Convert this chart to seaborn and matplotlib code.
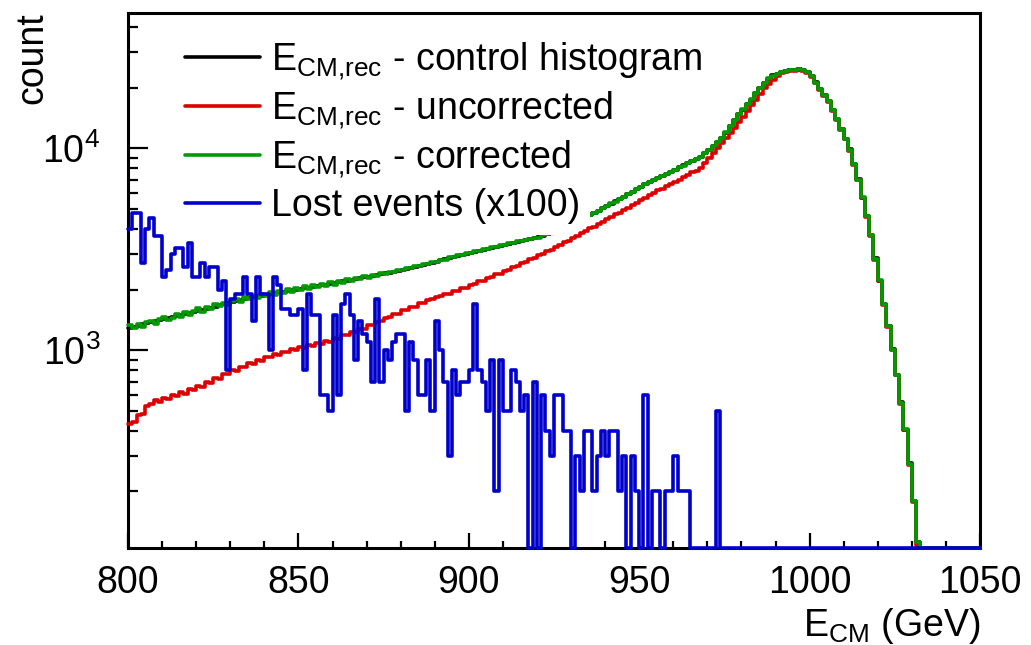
import numpy as np
import pandas as pd
import matplotlib
matplotlib.use("Agg")
import matplotlib.pyplot as plt
from matplotlib.lines import Line2D
from matplotlib.patches import Rectangle
from matplotlib.ticker import LogLocator, NullFormatter, MultipleLocator
import seaborn as sns

# ---------------------------------------------------------------------------
# Histogram contents: 200 bins of 1.25 GeV between 800 and 1050 GeV
# ---------------------------------------------------------------------------
e_low, e_high, bin_width = 800.0, 1050.0, 1.25

# E_CM,rec - control histogram
control = [
    1297, 1312, 1327, 1346, 1361, 1380, 1393, 1413, 1426, 1445,
    1459, 1479, 1493, 1514, 1531, 1549, 1570, 1589, 1607, 1629,
    1648, 1671, 1690, 1710, 1730, 1750, 1770, 1795, 1816, 1837,
    1849, 1866, 1884, 1901, 1919, 1936, 1954, 1972, 1986, 2000,
    2018, 2032, 2046, 2065, 2080, 2099, 2113, 2133, 2153, 2173,
    2193, 2213, 2234, 2254, 2275, 2296, 2317, 2339, 2360, 2382,
    2404, 2427, 2449, 2477, 2500, 2535, 2564, 2594, 2624, 2655,
    2685, 2716, 2754, 2793, 2825, 2864, 2897, 2938, 2972, 3013,
    3048, 3083, 3119, 3155, 3184, 3221, 3258, 3296, 3327, 3365,
    3404, 3443, 3475, 3516, 3556, 3597, 3631, 3698, 3767, 3846,
    3917, 3999, 4083, 4178, 4266, 4365, 4467, 4571, 4677, 4797,
    4920, 5058, 5188, 5333, 5470, 5623, 5768, 5943, 6109, 6281,
    6457, 6637, 6808, 6982, 7145, 7328, 7499, 7674, 7852, 8054,
    8241, 8453, 8650, 8872, 9078, 9520, 9840, 10330, 10710, 11280,
    11960, 12980, 13870, 14830, 15570, 16560, 17460, 18790, 19870, 21120,
    22190, 23000, 23410, 24020, 24240, 24460, 24520, 24690, 24460, 24020,
    22770, 21220, 19740, 18400, 17110, 15560, 13970, 12530, 11170, 9890,
    8370, 7040, 5710, 4620, 3720, 2856, 2210, 1700, 1316, 1013,
    756, 553, 404, 276, 179, 113, 40, 0, 0, 0,
    0, 0, 0, 0, 0, 0, 0, 0, 0, 0,
]

# E_CM,rec - uncorrected
uncorrected = [
    430, 440, 478, 482, 528, 540, 566, 552, 580, 575,
    602, 592, 620, 610, 645, 638, 665, 660, 698, 690,
    730, 725, 765, 760, 800, 794, 830, 824, 862, 858,
    895, 890, 930, 922, 958, 950, 985, 979, 1013, 1005,
    1040, 1031, 1064, 1056, 1088, 1080, 1114, 1106, 1145, 1141,
    1188, 1187, 1232, 1233, 1281, 1279, 1331, 1334, 1387, 1393,
    1449, 1456, 1514, 1522, 1577, 1583, 1640, 1647, 1708, 1716,
    1780, 1789, 1847, 1848, 1907, 1909, 1969, 1971, 2034, 2036,
    2110, 2122, 2194, 2207, 2286, 2301, 2382, 2399, 2482, 2502,
    2587, 2613, 2702, 2725, 2822, 2853, 2955, 2989, 3093, 3138,
    3253, 3310, 3429, 3491, 3614, 3681, 3810, 3882, 4016, 4085,
    4234, 4318, 4463, 4554, 4716, 4814, 4983, 5088, 5265, 5378,
    5563, 5685, 5878, 6009, 6197, 6322, 6518, 6651, 6856, 7014,
    7228, 7379, 7603, 7763, 7997, 8472, 8954, 9506, 10046, 10666,
    11272, 11967, 12647, 13521, 14355, 15346, 16331, 17458, 18535, 19815,
    20797, 21878, 22803, 23550, 23988, 24190, 24300, 24420, 24250, 23750,
    22580, 20970, 19570, 18180, 16970, 15370, 13860, 12380, 11080, 9765,
    8311, 6945, 5671, 4557, 3696, 2816, 2196, 1677, 1308, 999,
    751, 545, 402, 271, 178, 109, 40, 0, 0, 0,
    0, 0, 0, 0, 0, 0, 0, 0, 0, 0,
]

# E_CM,rec - corrected
corrected = [
    1330, 1285, 1352, 1310, 1388, 1405, 1352, 1430, 1470, 1412,
    1448, 1512, 1468, 1550, 1496, 1562, 1612, 1550, 1640, 1598,
    1690, 1652, 1725, 1680, 1762, 1788, 1735, 1830, 1790, 1860,
    1815, 1902, 1850, 1935, 1880, 1970, 1925, 2010, 1955, 2038,
    1985, 2072, 2020, 2098, 2048, 2130, 2090, 2170, 2118, 2205,
    2160, 2248, 2200, 2290, 2248, 2330, 2285, 2372, 2330, 2415,
    2389, 2445, 2437, 2496, 2487, 2552, 2549, 2612, 2610, 2672,
    2671, 2735, 2740, 2810, 2812, 2883, 2884, 2955, 2961, 3030,
    3036, 3101, 3107, 3172, 3171, 3240, 3246, 3313, 3316, 3384,
    3392, 3460, 3464, 3533, 3545, 3615, 3620, 3714, 3756, 3861,
    3905, 4015, 4071, 4192, 4255, 4380, 4455, 4586, 4666, 4811,
    4909, 5072, 5177, 5346, 5459, 5636, 5757, 5955, 6098, 6293,
    6446, 6649, 6797, 6994, 7134, 7340, 7488, 7686, 7841, 8066,
    8230, 8465, 8639, 8884, 9066, 9484, 9863, 10304, 10740, 11246,
    11995, 12942, 13900, 14791, 15596, 16520, 17498, 18750, 19907, 21086,
    22233, 22961, 23442, 23988, 24266, 24434, 24547, 24660, 24491, 23988,
    22803, 21184, 19770, 18365, 17140, 15524, 13996, 12503, 11194, 9863,
    8395, 7015, 5728, 4603, 3733, 2844, 2218, 1694, 1321, 1009,
    759, 551, 406, 274, 180, 112, 40, 0, 0, 0,
    0, 0, 0, 0, 0, 0, 0, 0, 0, 0,
]

# Lost events (raw counts, shown scaled by 100)
lost = [
    40, 48, 48, 27, 40, 45, 37, 37, 23, 25,
    30, 32, 32, 26, 34, 23, 23, 27, 23, 26,
    26, 20, 22, 8, 18, 19, 19, 23, 19, 14,
    23, 19, 19, 10, 23, 21, 16, 16, 15, 15,
    16, 8, 19, 15, 15, 6, 6, 5, 15, 6,
    17, 19, 15, 9, 14, 12, 11, 7, 18, 7,
    10, 9, 11, 12, 12, 5, 11, 9, 6, 6,
    9, 5, 14, 10, 7, 3, 8, 6, 7, 7,
    8, 17, 8, 7, 5, 9, 2, 9, 5, 5,
    8, 7, 5, 6, 0, 7, 0, 6, 4, 3,
    6, 6, 4, 4, 0, 3, 2, 4, 4, 2,
    3, 4, 3, 4, 4, 2, 3, 0, 3, 2,
    0, 6, 0, 2, 2, 0, 2, 2, 3, 2,
    2, 2, 0, 0, 0, 0, 0, 0, 5, 0,
    0, 0, 0, 0, 0, 0, 0, 0, 0, 0,
    0, 0, 0, 0, 0, 0, 0, 0, 0, 0,
    0, 0, 0, 0, 0, 0, 0, 0, 0, 0,
    0, 0, 0, 0, 0, 0, 0, 0, 0, 0,
    0, 0, 0, 0, 0, 0, 0, 0, 0, 0,
    0, 0, 0, 0, 0, 0, 0, 0, 0, 0,
]
lost_scale = 100

legend_labels = [
    r"$\mathregular{E_{CM{,}rec}}$ - control histogram",
    r"$\mathregular{E_{CM{,}rec}}$ - uncorrected",
    r"$\mathregular{E_{CM{,}rec}}$ - corrected",
    "Lost events (x100)",
]
x_ticks = [800, 850, 900, 950, 1000, 1050]

# ---------------------------------------------------------------------------
# Style
# ---------------------------------------------------------------------------
sns.set_style("ticks")
plt.rcParams["font.family"] = ["Liberation Sans", "DejaVu Sans"]
plt.rcParams["mathtext.fontset"] = "custom"
plt.rcParams["mathtext.rm"] = "Liberation Sans"
plt.rcParams["mathtext.it"] = "Liberation Sans:italic"
plt.rcParams["mathtext.default"] = "regular"
plt.rcParams["text.color"] = "black"
plt.rcParams["axes.labelcolor"] = "black"
plt.rcParams["xtick.color"] = "black"
plt.rcParams["ytick.color"] = "black"

FS = 27
LW = 2.6
y_lo, y_hi = 105.0, 4.7e4
C_BLACK, C_RED, C_GREEN, C_BLUE = "#000000", "#dd0000", "#009a00", "#0000cc"

n_bins = len(control)
centers = e_low + bin_width * (np.arange(n_bins) + 0.5)

fig = plt.figure(figsize=(10.31, 6.45), dpi=100)
ax = fig.add_axes([0.1242, 0.1504, 0.8263, 0.8299])
ax.set_yscale("log")


def draw_hist(values, scale, color, z):
    heights = np.asarray(values, dtype=float) * scale
    # empty / sub-range bins sit on the lower edge of the log axis
    df = pd.DataFrame({"E": centers, "n": np.clip(heights, y_lo, None)})
    sns.histplot(data=df, x="E", weights="n", binwidth=bin_width,
                 binrange=(e_low, e_high), element="step", fill=False,
                 color=color, linewidth=LW, ax=ax, zorder=z, clip_on=False)
    return ax.lines[-1]


draw_hist(control, 1, C_BLACK, 3.0)
draw_hist(uncorrected, 1, C_RED, 3.5)
draw_hist(corrected, 1, C_GREEN, 4.0)

# white legend pad, laid over the control / corrected curves
pad = Rectangle((0.061, 0.584), 0.481, 0.382, transform=ax.transAxes,
                facecolor="white", edgecolor="none", zorder=4.5)
ax.add_patch(pad)
# the uncorrected curve stays visible on top of the pad
red_top = draw_hist(uncorrected, 1, C_RED, 4.6)
red_top.set_clip_on(True)
red_top.set_clip_path(pad)

draw_hist(lost, lost_scale, C_BLUE, 6.0)

ax.set_xlim(e_low, e_high)
ax.set_ylim(y_lo, y_hi)

# axes frame and ticks
for sp in ax.spines.values():
    sp.set_visible(True)
    sp.set_linewidth(2.2)
    sp.set_color("black")
    sp.set_zorder(2)

ax.set_xticks(x_ticks)
ax.xaxis.set_minor_locator(MultipleLocator(10))
ax.yaxis.set_major_locator(LogLocator(base=10))
ax.yaxis.set_minor_locator(LogLocator(base=10, subs=np.arange(2, 10)))
ax.yaxis.set_minor_formatter(NullFormatter())
ax.tick_params(which="both", direction="in", top=False, right=False,
               width=1.6, colors="black", labelsize=FS)
ax.tick_params(axis="x", which="major", length=10.8, pad=12)
ax.tick_params(axis="x", which="minor", length=5.4)
ax.tick_params(axis="y", which="major", length=14.4, pad=20)
ax.tick_params(axis="y", which="minor", length=7.2)

ax.set_xlabel(r"$\mathregular{E_{CM}}$ (GeV)", fontsize=FS, loc="right",
              labelpad=4, color="black")
ax.set_ylabel("count", fontsize=FS, loc="top", labelpad=-6, color="black")

handles = [Line2D([], [], color=c, lw=LW)
           for c in (C_BLACK, C_RED, C_GREEN, C_BLUE)]
leg = ax.legend(handles, legend_labels, loc="upper left",
                bbox_to_anchor=(0.06, 0.96), fontsize=FS, frameon=False,
                handlelength=2.0, handletextpad=0.3,
                labelspacing=0.2, borderpad=0.15, borderaxespad=0.0,
                labelcolor="black")
leg.set_zorder(10)

fig.savefig("out.png", dpi=100)
